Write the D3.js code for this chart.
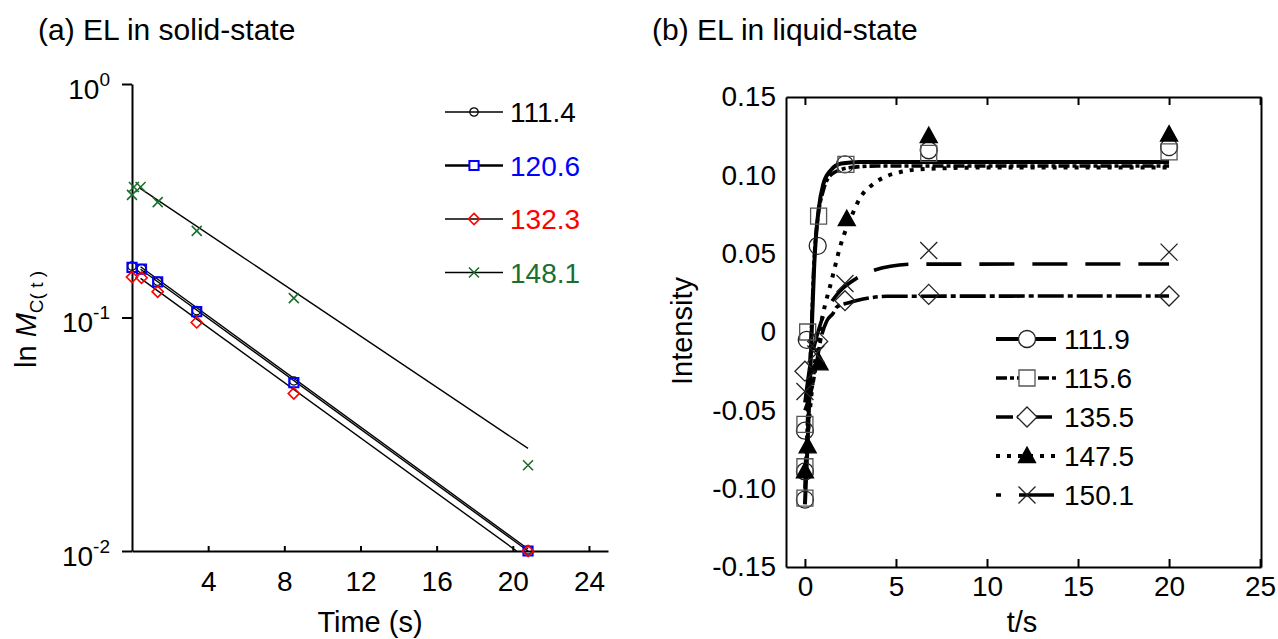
<!DOCTYPE html>
<html>
<head>
<meta charset="utf-8">
<script src="https://cdn.jsdelivr.net/npm/d3@7"></script>
<style>
  body { margin: 0; background: #fff; }
  svg text { font-family: "Liberation Sans", Arial, sans-serif; }
</style>
</head>
<body>
<svg id="chart" width="1278" height="639"></svg>
<script>
// ---- (a) solid-state data ----
const solidNames = ['111.4', '120.6', '132.3', '148.1']
const solidTimes = [0, 0.5, 1.35, 3.4, 8.5, 20.8]
const solid1114 = [0.166, 0.162, 0.143, 0.107, 0.0535, 0.0101]
const solid1206 = [0.164, 0.161, 0.142, 0.106, 0.0526, 0.0100]
const solid1323 = [0.149, 0.148, 0.129, 0.0953, 0.0473, 0.0100]
const solidTimes1481 = [0, 0.1, 0.45, 1.35, 3.4, 8.5, 20.8]
const solid1481 = [0.335, 0.362, 0.362, 0.312, 0.235, 0.121, 0.0233]
// fitted straight lines (start, end)
const fit1114 = [[0.45, 0.161], [20.8, 0.0100]]
const fit1206 = [[0.45, 0.165], [20.8, 0.0102]]
const fit1323 = [[0.45, 0.147], [20.2, 0.0100]]
const fit1481 = [[0.37, 0.36], [20.8, 0.0275]]
const solidXTicks = [4, 8, 12, 16, 20, 24]
const solidYTicks = [1, 0.1, 0.01]
const solidYExp = ['0', '-1', '-2']

// ---- (b) liquid-state data ----
const liquidNames = ['111.9', '115.6', '135.5', '147.5', '150.1']
const liqT1119 = [0, 0, 0, 0.1, 0.7, 2.2, 6.8, 20]
const liqV1119 = [-0.107, -0.089, -0.063, -0.005, 0.055, 0.107, 0.116, 0.118]
const liqT1156 = [0, 0, 0, 0.15, 0.75, 2.25, 6.8, 20]
const liqV1156 = [-0.106, -0.086, -0.059, 0.0, 0.074, 0.107, 0.114, 0.115]
const liqT1355 = [0, 0.7, 2.2, 6.8, 20]
const liqV1355 = [-0.025, -0.006, 0.020, 0.024, 0.023]
const liqT1475 = [0, 0.15, 0.8, 2.3, 6.8, 20]
const liqV1475 = [-0.089, -0.073, -0.020, 0.072, 0.125, 0.126]
const liqT1501 = [0, 0.6, 2.2, 6.8, 20]
const liqV1501 = [-0.038, -0.014, 0.031, 0.052, 0.051]
// fitted curves
const curve1119 = [[0, -0.11], [0.15, -0.07], [0.3, -0.025], [0.4, 0.01], [0.5, 0.04], [0.6, 0.06], [0.75, 0.078], [1.0, 0.094], [1.4, 0.103], [2.0, 0.1075], [3, 0.1085], [20, 0.1085]]
const curve1156 = [[0, -0.1], [0.2, -0.04], [0.35, 0.0], [0.5, 0.045], [0.7, 0.072], [1.0, 0.09], [1.5, 0.101], [2.5, 0.105], [4, 0.106], [20, 0.106]]
const curve1355 = [[0, -0.05], [0.4, -0.035], [0.65, -0.019], [0.9, -0.003], [1.2, 0.007], [1.55, 0.012], [1.75, 0.016], [2.5, 0.019], [3.2, 0.021], [4.5, 0.0228], [20, 0.023]]
const curve1475 = [[0, -0.09], [0.2, -0.06], [0.4, -0.035], [0.6, -0.015], [0.8, 0.0], [1.0, 0.012], [1.4, 0.03], [2.0, 0.057], [2.6, 0.075], [3.0, 0.085], [3.7, 0.094], [4.5, 0.0995], [5.2, 0.102], [6.6, 0.104], [10, 0.105], [20, 0.105]]
const curve1501 = [[0, -0.045], [0.3, -0.02], [0.6, -0.005], [1.0, 0.01], [1.5, 0.02], [2.0, 0.027], [2.8, 0.034], [3.7, 0.039], [4.7, 0.042], [6, 0.0433], [20, 0.0434]]
const liquidXTicks = [0, 5, 10, 15, 20, 25]
const liquidYTicks = [0.15, 0.10, 0.05, 0, -0.05, -0.10, -0.15]

const zip = (ts, vs) => ts.map((t, i) => ({ t, v: vs[i] }))
const pairs = arr => arr.map(([t, v]) => ({ t, v }))

const shapes = {
  circle: r => `M${-r},0A${r},${r} 0 1,0 ${r},0A${r},${r} 0 1,0 ${-r},0Z`,
  square: r => `M${-r},${-r}H${r}V${r}H${-r}Z`,
  diamond: r => `M0,${-r}L${r},0L0,${r}L${-r},0Z`,
  triangle: r => `M0,${-r}L${r * 0.95},${r * 0.72}L${-r * 0.95},${r * 0.72}Z`,
  cross: r => `M${-r},${-r}L${r},${r}M${-r},${r}L${r},${-r}`
}

const svg = d3.select('#chart')

function styleAxis(g) {
  g.attr('font-size', 28).attr('font-family', null)
  g.selectAll('path, line').attr('stroke', '#000').attr('stroke-width', 2)
  g.selectAll('text').attr('fill', '#000')
}

// ================= (a) =================
const xA = d3.scaleLinear().domain([0, 25]).range([132, 608])
const yA = d3.scaleLog().domain([0.01, 1]).range([551, 84])

svg.append('text').attr('x', 38).attr('y', 40).attr('font-size', 30).text('(a) EL in solid-state')

svg.append('g')
  .attr('transform', `translate(0,${yA(0.01)})`)
  .call(d3.axisBottom(xA).tickValues(solidXTicks).tickSize(-5).tickSizeOuter(0).tickPadding(20))
  .call(styleAxis)

const yAxisA = svg.append('g')
  .attr('transform', `translate(${xA(0)},0)`)
  .call(d3.axisLeft(yA).tickValues(solidYTicks).tickSize(10).tickSizeOuter(0).tickFormat(() => ''))
  .call(styleAxis)

yAxisA.selectAll('.tick text').each(function (d, i) {
  const t = d3.select(this).attr('dy', null).attr('x', -22).attr('y', 14).attr('text-anchor', 'end')
  t.append('tspan').text('10')
  t.append('tspan').attr('font-size', 19).attr('dy', -13).text(solidYExp[i])
})

svg.append('text')
  .attr('font-size', 29)
  .attr('transform', 'translate(36,368) rotate(-90)')
  .call(t => {
    t.append('tspan').text('ln ')
    t.append('tspan').attr('font-style', 'italic').text('M')
    t.append('tspan').attr('font-size', 19).attr('dy', 7).text('C( t )')
  })

svg.append('text').attr('x', (xA.range()[0] + xA.range()[1]) / 2).attr('y', 632)
  .attr('text-anchor', 'middle').attr('font-size', 29).text('Time (s)')

const lineA = d3.line().x(d => xA(d.t)).y(d => yA(d.v))
;[fit1114, fit1206, fit1323, fit1481].forEach(f => {
  svg.append('path').datum(pairs(f)).attr('d', lineA)
    .attr('fill', 'none').attr('stroke', '#000').attr('stroke-width', 1.4)
})

const solidStyle = {
  '111.4': { shape: 'circle', r: 4.2, color: '#000', w: 1.2 },
  '120.6': { shape: 'square', r: 4.6, color: '#0000ff', w: 2 },
  '132.3': { shape: 'diamond', r: 5.6, color: '#ff0000', w: 1.6 },
  '148.1': { shape: 'cross', r: 5, color: '#1e6e2e', w: 1.6 }
}
const solidPoints = {
  '111.4': zip(solidTimes, solid1114),
  '120.6': zip(solidTimes, solid1206),
  '132.3': zip(solidTimes, solid1323),
  '148.1': zip(solidTimes1481, solid1481)
}
solidNames.forEach(name => {
  const s = solidStyle[name]
  svg.append('g').selectAll('path').data(solidPoints[name]).join('path')
    .attr('transform', d => `translate(${xA(d.t)},${yA(d.v)})`)
    .attr('d', shapes[s.shape](s.r))
    .attr('fill', 'none').attr('stroke', s.color).attr('stroke-width', s.w)
})

// legend (a)
solidNames.forEach((name, i) => {
  const s = solidStyle[name]
  const y = 112 + i * 53.5
  const g = svg.append('g').attr('transform', `translate(445,${y})`)
  g.append('line').attr('x1', 0).attr('x2', 58).attr('stroke', '#000').attr('stroke-width', i === 1 ? 2.6 : 1.3)
  g.append('path').attr('transform', 'translate(29,0)').attr('d', shapes[s.shape](s.r))
    .attr('fill', i === 1 ? '#fff' : 'none').attr('stroke', s.color).attr('stroke-width', s.w)
  g.append('text').attr('x', 65).attr('y', 10).attr('font-size', 28).attr('fill', s.color).text(name)
})

// ================= (b) =================
const xB = d3.scaleLinear().domain([-1.04, 25.05]).range([786, 1261])
const yB = d3.scaleLinear().domain([-0.15, 0.15]).range([567, 97])

svg.append('text').attr('x', 652).attr('y', 40).attr('font-size', 30).text('(b) EL in liquid-state')

svg.append('g')
  .attr('transform', `translate(0,${yB(-0.15)})`)
  .call(d3.axisBottom(xB).tickValues(liquidXTicks).tickSize(-8).tickSizeOuter(0).tickPadding(9))
  .call(styleAxis)
svg.append('g')
  .attr('transform', `translate(0,${yB(0.15)})`)
  .call(d3.axisTop(xB).tickValues(liquidXTicks).tickSize(-8).tickSizeOuter(0).tickFormat(() => ''))
  .call(styleAxis)
svg.append('g')
  .attr('transform', `translate(${xB.range()[0]},0)`)
  .call(d3.axisLeft(yB).tickValues(liquidYTicks).tickSize(0).tickPadding(10)
    .tickFormat(d => Math.abs(d) < 1e-9 ? '0' : d.toFixed(2)))
  .call(styleAxis)
svg.append('g')
  .attr('transform', `translate(${xB.range()[1]},0)`)
  .call(d3.axisRight(yB).tickValues([]).tickSize(0).tickSizeOuter(0))
  .call(styleAxis)

svg.append('text').attr('font-size', 29).attr('text-anchor', 'middle')
  .attr('transform', 'translate(692,331) rotate(-90)').text('Intensity')
svg.append('text').attr('x', 1022).attr('y', 632)
  .attr('text-anchor', 'middle').attr('font-size', 29).text('t/s')

const liquidStyle = {
  '111.9': { shape: 'circle', r: 8.5, stroke: '#222', fill: 'none', dash: null, off: 0, lw: 4 },
  '115.6': { shape: 'square', r: 8, stroke: '#555', fill: 'none', dash: '11,3,4,3', off: 0, lw: 3.6 },
  '135.5': { shape: 'diamond', r: 10, stroke: '#222', fill: 'none', dash: '26,4,5,4', off: 9, lw: 3.6 },
  '147.5': { shape: 'triangle', r: 9, stroke: '#000', fill: '#000', dash: '4,7', off: 0, lw: 4 },
  '150.1': { shape: 'cross', r: 8.5, stroke: '#222', fill: 'none', dash: '35,18', off: 30, lw: 3.6 }
}
const liquidCurves = {
  '111.9': pairs(curve1119), '115.6': pairs(curve1156), '135.5': pairs(curve1355),
  '147.5': pairs(curve1475), '150.1': pairs(curve1501)
}
const liquidPoints = {
  '111.9': zip(liqT1119, liqV1119), '115.6': zip(liqT1156, liqV1156), '135.5': zip(liqT1355, liqV1355),
  '147.5': zip(liqT1475, liqV1475), '150.1': zip(liqT1501, liqV1501)
}

const lineB = d3.line().x(d => xB(d.t)).y(d => yB(d.v)).curve(d3.curveMonotoneX)
;['150.1', '135.5', '147.5', '115.6', '111.9'].forEach(name => {
  const s = liquidStyle[name]
  svg.append('path').datum(liquidCurves[name]).attr('d', lineB)
    .attr('fill', 'none').attr('stroke', '#000').attr('stroke-width', s.lw)
    .attr('stroke-dasharray', s.dash)
})

liquidNames.forEach(name => {
  const s = liquidStyle[name]
  svg.append('g').selectAll('path').data(liquidPoints[name]).join('path')
    .attr('transform', d => `translate(${xB(d.t)},${yB(d.v)})`)
    .attr('d', shapes[s.shape](s.r))
    .attr('fill', s.fill).attr('stroke', s.stroke).attr('stroke-width', 1.3)
})

// legend (b)
liquidNames.forEach((name, i) => {
  const s = liquidStyle[name]
  const y = 339 + i * 39
  const g = svg.append('g').attr('transform', `translate(996,${y})`)
  g.append('line').attr('x1', 0).attr('x2', 60).attr('stroke', '#000').attr('stroke-width', s.lw)
    .attr('stroke-dasharray', s.dash).attr('stroke-dashoffset', s.off)
  g.append('path').attr('transform', 'translate(31,0)').attr('d', shapes[s.shape](s.r))
    .attr('fill', s.fill === 'none' ? '#fff' : s.fill).attr('stroke', s.stroke).attr('stroke-width', 1.3)
  g.append('text').attr('x', 68).attr('y', 10).attr('font-size', 28).text(name)
})
</script>
</body>
</html>
